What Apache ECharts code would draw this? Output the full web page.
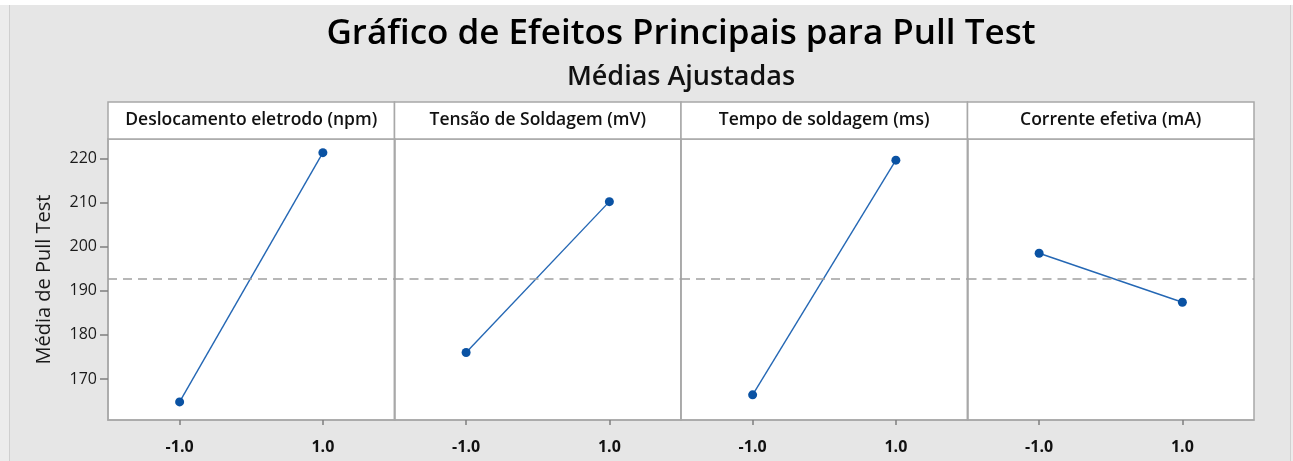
<!DOCTYPE html>
<html>
<head>
<meta charset="utf-8">
<script src="https://cdn.jsdelivr.net/npm/echarts@6/dist/echarts.min.js"></script>
<style>
  html, body { margin: 0; padding: 0; background: #fff; }
  #chart { width: 1293px; height: 461px; }
</style>
</head>
<body>
<div id="chart"></div>
<script>
// dados
const factors = ["Deslocamento eletrodo (npm)", "Tensão de Soldagem (mV)", "Tempo de soldagem (ms)", "Corrente efetiva (mA)"];
const levels = [-1, 1];
const levelLabels = ["-1.0", "1.0"];
const meansLow = [164.8, 176.0, 166.4, 198.5];
const meansHigh = [221.3, 210.2, 219.6, 187.4];
const grandMean = 192.8;
const yTicks = [170, 180, 190, 200, 210, 220];

const chart = echarts.init(document.getElementById("chart"));

const plotLeft = 108, plotTop = 139, plotH = 281, panelW = 286.5, headTop = 102;
const font = "'Open Sans', 'Noto Sans', sans-serif";
const gray = "#a8a8a8";
const tickGray = "#7f7f7f";

const grids = [], xAxes = [], yAxes = [], series = [];
// moldura externa: faixa branca no topo, bordas claras nas laterais
const graphics = [
  { type: "rect", silent: true, shape: { x: 0, y: 0, width: 1293, height: 5 }, style: { fill: "#ffffff" } },
  { type: "rect", silent: true, shape: { x: 0, y: 5, width: 9, height: 456 }, style: { fill: "#ececec" } },
  { type: "line", silent: true, shape: { x1: 9.5, y1: 5, x2: 9.5, y2: 461 }, style: { stroke: "#cfcfcf", lineWidth: 1 } },
  { type: "rect", silent: true, shape: { x: 1290, y: 5, width: 3, height: 456 }, style: { fill: "#ececec" } },
  { type: "line", silent: true, shape: { x1: 1290.5, y1: 5, x2: 1290.5, y2: 461 }, style: { stroke: "#d0d0d0", lineWidth: 1 } }
];

factors.forEach((name, i) => {
  const left = plotLeft + i * panelW;
  grids.push({ left: left, top: plotTop, width: panelW, height: plotH, show: true,
    backgroundColor: "#ffffff", borderColor: gray, borderWidth: 1.5 });
  xAxes.push({
    type: "value", gridIndex: i, min: -2, max: 2, position: "bottom",
    axisLine: { show: true, onZero: false, lineStyle: { color: gray, width: 1.5 } },
    splitLine: { show: false },
    axisTick: { show: true, inside: false, length: 5, customValues: levels, lineStyle: { color: tickGray, width: 1.5 } },
    axisLabel: { customValues: levels, formatter: v => levelLabels[levels.indexOf(v)],
      color: "#111", fontFamily: font, fontWeight: "bold", fontSize: 16, margin: 19 }
  });
  yAxes.push({
    type: "value", gridIndex: i, min: 160.7, max: 224.4, position: "left",
    axisLine: { show: true, onZero: false, lineStyle: { color: gray, width: 1.5 } },
    splitLine: { show: false },
    axisTick: { show: i === 0, inside: false, length: 8, customValues: yTicks, lineStyle: { color: tickGray, width: 1.5 } },
    axisLabel: { show: i === 0, customValues: yTicks, color: "#1a1a1a", fontFamily: font, fontSize: 16, margin: 11 },
    name: i === 0 ? "Média de Pull Test" : "",
    nameLocation: "middle", nameGap: 54, nameRotate: 90,
    nameTextStyle: { color: "#1a1a1a", fontFamily: font, fontSize: 20 }
  });
  series.push({
    type: "line", xAxisIndex: i, yAxisIndex: i,
    data: [[levels[0], meansLow[i]], [levels[1], meansHigh[i]]],
    symbol: "circle", symbolSize: 9,
    lineStyle: { color: "#2467b4", width: 1.4 },
    itemStyle: { color: "#0a52a3" },
    markLine: {
      silent: true, symbol: "none", label: { show: false },
      lineStyle: { color: "#a0a0a0", type: [9, 6], width: 1.5 },
      data: [{ yAxis: grandMean }]
    },
    z: 3
  });
  graphics.push({ type: "rect", shape: { x: left, y: headTop, width: panelW, height: plotTop - headTop },
    style: { fill: "#ffffff", stroke: gray, lineWidth: 1.5 } });
  graphics.push({ type: "text", x: left + panelW / 2, y: (headTop + plotTop) / 2,
    style: { text: name, fill: "#111", font: "600 17.5px " + font, align: "center", verticalAlign: "middle" } });
});

graphics.push({ type: "text", x: 681, y: 34,
  style: { text: "Gráfico de Efeitos Principais para Pull Test", fill: "#000", font: "600 35px " + font, align: "center", verticalAlign: "middle" } });
graphics.push({ type: "text", x: 681, y: 77,
  style: { text: "Médias Ajustadas", fill: "#111", font: "600 27px " + font, align: "center", verticalAlign: "middle" } });

chart.setOption({
  backgroundColor: "#e6e6e6",
  animation: false,
  grid: grids,
  xAxis: xAxes,
  yAxis: yAxes,
  series: series,
  graphic: graphics
});
</script>
</body>
</html>
